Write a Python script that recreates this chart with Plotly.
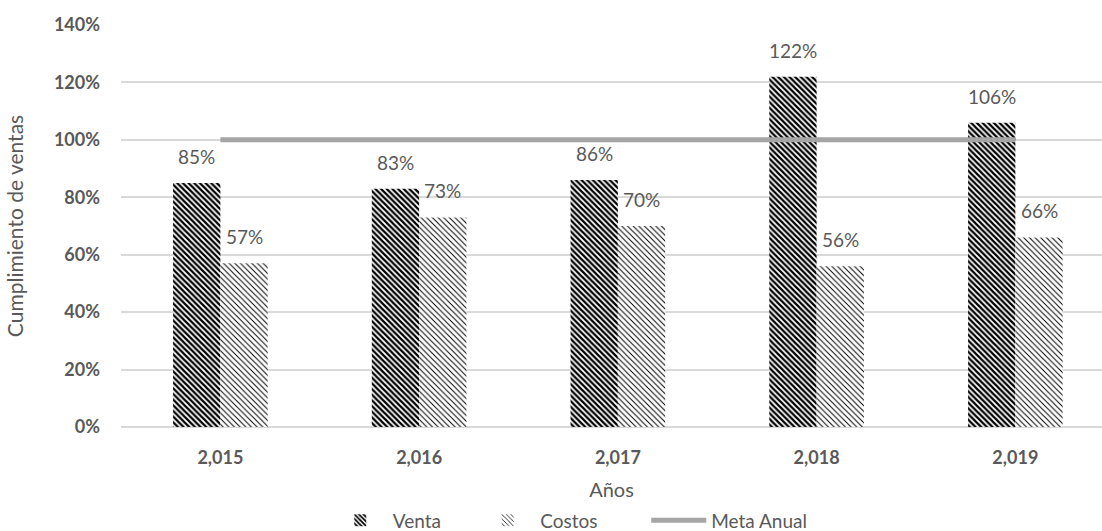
import plotly.graph_objects as go

years = ["2,015", "2,016", "2,017", "2,018", "2,019"]
venta = [0.85, 0.83, 0.86, 1.22, 1.06]
costos = [0.57, 0.73, 0.70, 0.56, 0.66]
meta = [1.0, 1.0, 1.0, 1.0, 1.0]
series_names = ["Venta", "Costos", "Meta Anual"]

xs = list(range(len(years)))
FONT = "Lato"
GREY = "#595959"
W = 0.238
NB = "\u00a0"

fig = go.Figure()
fig.add_trace(go.Bar(
    x=xs, y=venta, name=series_names[0] + NB * 6, width=W, offset=-W,
    marker=dict(color="white", line=dict(width=0),
                pattern=dict(shape="\\", size=4, solidity=0.55, fgcolor="black", bgcolor="white", fillmode="replace")),
))
fig.add_trace(go.Bar(
    x=xs, y=costos, name=series_names[1] + NB * 9, width=W, offset=0,
    marker=dict(color="white", line=dict(width=0),
                pattern=dict(shape="\\", size=4, solidity=0.25, fgcolor="black", bgcolor="white", fillmode="replace")),
))
fig.add_trace(go.Scatter(
    x=xs, y=meta, name=series_names[2], mode="lines",
    line=dict(color="#A5A5A5", width=5),
))

for i in xs:
    fig.add_annotation(x=i - W / 2, y=venta[i], text=f"{round(venta[i]*100)}%", showarrow=False,
                       yanchor="bottom", yshift=13, font=dict(family=FONT, size=19, color=GREY))
    fig.add_annotation(x=i + W / 2, y=costos[i], text=f"{round(costos[i]*100)}%", showarrow=False,
                       yanchor="bottom", yshift=13, font=dict(family=FONT, size=19, color=GREY))

fig.update_layout(
    width=1102, height=531,
    margin=dict(l=121, r=0, t=25, b=104, autoexpand=False),
    paper_bgcolor="white", plot_bgcolor="white",
    barmode="overlay",
    font=dict(family=FONT, color=GREY),
    showlegend=True,
    legend=dict(orientation="h", x=0.458, xanchor="center", yref="container", y=0.02, yanchor="middle",
                font=dict(family=FONT, size=19, color=GREY), itemwidth=55,
                traceorder="normal"),
    xaxis=dict(
        range=[-0.5, 4.436], tickmode="array", tickvals=xs, ticktext=[f"<b>{y}</b>" for y in years],
        tickfont=dict(family=FONT, size=18, color=GREY), showgrid=False, zeroline=False,
        showline=False, ticks="", ticklabelstandoff=18, automargin=False,
        title=dict(text="Años", font=dict(family=FONT, size=20, color=GREY), standoff=22),
    ),
    yaxis=dict(
        range=[0, 1.4], tickvals=[0, 0.2, 0.4, 0.6, 0.8, 1.0, 1.2, 1.4],
        ticktext=[f"<b>{v}%</b>" for v in [0, 20, 40, 60, 80, 100, 120, 140]],
        tickfont=dict(family=FONT, size=18, color=GREY), showgrid=True, gridcolor="#D9D9D9", gridwidth=1.5,
        zeroline=True, zerolinecolor="#D9D9D9", zerolinewidth=1.5, ticks="", ticklabelstandoff=20,
        automargin=False,
        title=dict(text="Cumplimiento de ventas", font=dict(family=FONT, size=21, color=GREY), standoff=24),
    ),
)

fig.write_html("out.html")
